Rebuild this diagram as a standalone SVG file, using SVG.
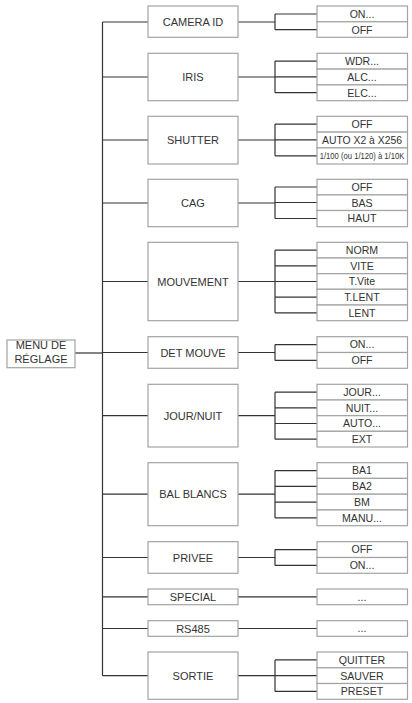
<svg xmlns="http://www.w3.org/2000/svg" width="412" height="703" viewBox="0 0 412 703">
<style>
.bx{fill:#fff;stroke:#a3a3a3;stroke-width:1.2}
.t{font-family:"Liberation Sans",Arial,sans-serif;font-size:11px;fill:#333;text-anchor:middle}
.s{font-family:"Liberation Sans",Arial,sans-serif;font-size:10.6px;fill:#333;text-anchor:middle}
.c{fill:none;stroke:#333;stroke-width:1.2}
</style>
<rect width="412" height="703" fill="#fff"/>
<g id="connectors" class="c">
<path d="M102.5 22V675.7"/>
<path d="M75 353H102.5"/>
<path d="M102.5 22H148M238 22H275M275 14V29.7M275 14H317M275 29.7H317"/>
<path d="M102.5 77H148M238 77H275M275 61.1V92.7M275 61.1H317M275 76.9H317M275 92.7H317"/>
<path d="M102.5 140H148M238 140H275M275 124.1V155.8M275 124.1H317M275 139.9H317M275 155.8H317"/>
<path d="M102.5 203H148M238 203H275M275 187V218.5M275 187H317M275 202.5H317M275 218.5H317"/>
<path d="M102.5 281.5H148M238 281.5H275M275 250.2V312.8M275 250.2H317M275 265.9H317M275 281.5H317M275 297.1H317M275 312.8H317"/>
<path d="M102.5 352.5H148M238 352.5H275M275 344.6V360.4M275 344.6H317M275 360.4H317"/>
<path d="M102.5 415.7H148M238 415.7H275M275 392.2V439.2M275 392.2H317M275 407.9H317M275 423.5H317M275 439.2H317"/>
<path d="M102.5 494.2H148M238 494.2H275M275 470.6V517.9M275 470.6H317M275 486.3H317M275 502.1H317M275 517.9H317"/>
<path d="M102.5 557.5H148M238 557.5H275M275 549.6V565.4M275 549.6H317M275 565.4H317"/>
<path d="M102.5 596.8H148M238 596.8H317"/>
<path d="M102.5 628.5H148M238 628.5H317"/>
<path d="M102.5 675.7H148M238 675.7H275M275 659.9V691.4M275 659.9H317M275 675.7H317M275 691.4H317"/>
</g>
<g id="menu"><rect class="bx" x="7" y="340" width="68" height="27.7"/><text class="t" x="41" y="349">MENU DE</text><text class="t" x="41" y="363">RÉGLAGE</text></g>

<g id="camera-id"><rect class="bx" x="148" y="6" width="90" height="31.3"/><text class="t" x="193" y="26">CAMERA ID</text></g>
<g id="camera-id-opts">
<rect class="bx" x="317" y="6" width="90.5" height="15.8"/><text class="s" x="362" y="17.8">ON...</text>
<rect class="bx" x="317" y="21.8" width="90.5" height="15.5"/><text class="s" x="362" y="33.5">OFF</text>
</g>

<g id="iris"><rect class="bx" x="148" y="53.3" width="90" height="47.4"/><text class="t" x="193" y="81">IRIS</text></g>
<g id="iris-opts">
<rect class="bx" x="317" y="53.3" width="90.5" height="15.8"/><text class="s" x="362" y="65">WDR...</text>
<rect class="bx" x="317" y="69.1" width="90.5" height="15.8"/><text class="s" x="362" y="80.8">ALC...</text>
<rect class="bx" x="317" y="84.9" width="90.5" height="15.8"/><text class="s" x="362" y="96.6">ELC...</text>
</g>

<g id="shutter"><rect class="bx" x="148" y="116.3" width="90" height="47.7"/><text class="t" x="193" y="144">SHUTTER</text></g>
<g id="shutter-opts">
<rect class="bx" x="317" y="116.3" width="90.5" height="15.8"/><text class="s" x="362" y="128">OFF</text>
<rect class="bx" x="317" y="132.1" width="90.5" height="15.8"/><text class="s" x="362" y="143.8" textLength="80" lengthAdjust="spacingAndGlyphs">AUTO X2 à X256</text>
<rect class="bx" x="317" y="147.9" width="90.5" height="16.1"/><text class="s" transform="translate(362 159.4) scale(0.85 1)" x="0" y="0" style="font-size:9px">1/100 (ou 1/120) à 1/10K</text>
</g>

<g id="cag"><rect class="bx" x="148" y="179.3" width="90" height="47.4"/><text class="t" x="193" y="207">CAG</text></g>
<g id="cag-opts">
<rect class="bx" x="317" y="179.3" width="90.5" height="15.6"/><text class="s" x="362" y="190.9">OFF</text>
<rect class="bx" x="317" y="194.9" width="90.5" height="15.6"/><text class="s" x="362" y="206.5">BAS</text>
<rect class="bx" x="317" y="210.5" width="90.5" height="16.2"/><text class="s" x="362" y="222.3">HAUT</text>
</g>

<g id="mouvement"><rect class="bx" x="148" y="242.3" width="90" height="78.4"/><text class="t" x="193" y="285.5">MOUVEMENT</text></g>
<g id="mouvement-opts">
<rect class="bx" x="317" y="242.3" width="90.5" height="15.7"/><text class="s" x="362" y="254">NORM</text>
<rect class="bx" x="317" y="258" width="90.5" height="15.7"/><text class="s" x="362" y="269.7">VITE</text>
<rect class="bx" x="317" y="273.7" width="90.5" height="15.6"/><text class="s" x="362" y="285.4">T.Vite</text>
<rect class="bx" x="317" y="289.3" width="90.5" height="15.7"/><text class="s" x="362" y="301">T.LENT</text>
<rect class="bx" x="317" y="305" width="90.5" height="15.7"/><text class="s" x="362" y="316.7">LENT</text>
</g>

<g id="det-mouve"><rect class="bx" x="148" y="336.7" width="90" height="31.6"/><text class="t" x="193" y="356.5">DET MOUVE</text></g>
<g id="det-mouve-opts">
<rect class="bx" x="317" y="336.7" width="90.5" height="15.8"/><text class="s" x="362" y="348.4">ON...</text>
<rect class="bx" x="317" y="352.5" width="90.5" height="15.8"/><text class="s" x="362" y="364.2">OFF</text>
</g>

<g id="jour-nuit"><rect class="bx" x="148" y="384.3" width="90" height="62.7"/><text class="t" x="193" y="419.7">JOUR/NUIT</text></g>
<g id="jour-nuit-opts">
<rect class="bx" x="317" y="384.3" width="90.5" height="15.7"/><text class="s" x="362" y="396">JOUR...</text>
<rect class="bx" x="317" y="400" width="90.5" height="15.7"/><text class="s" x="362" y="411.7">NUIT...</text>
<rect class="bx" x="317" y="415.7" width="90.5" height="15.6"/><text class="s" x="362" y="427.4">AUTO...</text>
<rect class="bx" x="317" y="431.3" width="90.5" height="15.7"/><text class="s" x="362" y="443">EXT</text>
</g>

<g id="bal-blancs"><rect class="bx" x="148" y="462.7" width="90" height="63"/><text class="t" x="193" y="498.2">BAL BLANCS</text></g>
<g id="bal-blancs-opts">
<rect class="bx" x="317" y="462.7" width="90.5" height="15.7"/><text class="s" x="362" y="474.4">BA1</text>
<rect class="bx" x="317" y="478.4" width="90.5" height="15.8"/><text class="s" x="362" y="490.2">BA2</text>
<rect class="bx" x="317" y="494.2" width="90.5" height="15.8"/><text class="s" x="362" y="506">BM</text>
<rect class="bx" x="317" y="510" width="90.5" height="15.7"/><text class="s" x="362" y="521.8">MANU...</text>
</g>

<g id="privee"><rect class="bx" x="148" y="541.7" width="90" height="31.6"/><text class="t" x="193" y="561.5">PRIVEE</text></g>
<g id="privee-opts">
<rect class="bx" x="317" y="541.7" width="90.5" height="15.8"/><text class="s" x="362" y="553.4">OFF</text>
<rect class="bx" x="317" y="557.5" width="90.5" height="15.8"/><text class="s" x="362" y="569.2">ON...</text>
</g>

<g id="special"><rect class="bx" x="148" y="589" width="90" height="15.7"/><text class="t" x="193" y="600.8">SPECIAL</text></g>
<g id="special-opts"><rect class="bx" x="317" y="589" width="90.5" height="15.7"/><text class="s" x="362" y="600.5">...</text></g>

<g id="rs485"><rect class="bx" x="148" y="620.7" width="90" height="15.6"/><text class="t" x="193" y="632.5">RS485</text></g>
<g id="rs485-opts"><rect class="bx" x="317" y="620.7" width="90.5" height="15.6"/><text class="s" x="362" y="632.2">...</text></g>

<g id="sortie"><rect class="bx" x="148" y="652" width="90" height="47.3"/><text class="t" x="193" y="679.7">SORTIE</text></g>
<g id="sortie-opts">
<rect class="bx" x="317" y="652" width="90.5" height="15.8"/><text class="s" x="362" y="663.7">QUITTER</text>
<rect class="bx" x="317" y="667.8" width="90.5" height="15.7"/><text class="s" x="362" y="679.5">SAUVER</text>
<rect class="bx" x="317" y="683.5" width="90.5" height="15.8"/><text class="s" x="362" y="695.2">PRESET</text>
</g>
</svg>
